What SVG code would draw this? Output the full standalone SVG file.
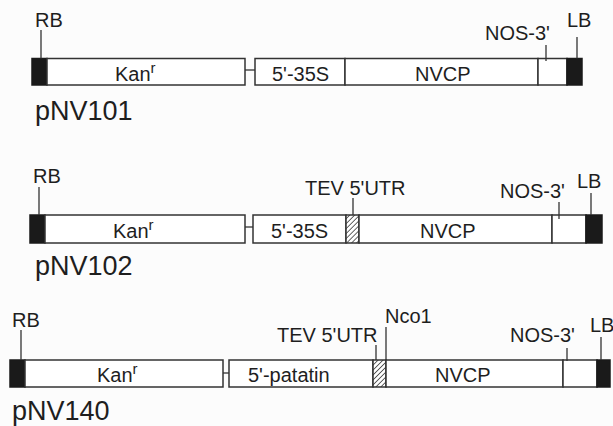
<svg xmlns="http://www.w3.org/2000/svg" width="613" height="426" viewBox="0 0 613 426">
<defs>
<pattern id="hatch" patternUnits="userSpaceOnUse" width="3.5" height="3.5" patternTransform="rotate(45)">
<rect width="3.5" height="3.5" fill="#fff"/>
<line x1="0" y1="0" x2="0" y2="3.5" stroke="#333" stroke-width="1.5"/>
</pattern>
</defs>
<style>
.box{fill:#fff;stroke:#333;stroke-width:1.5}
.blk{fill:#1a1a1a;stroke:#1a1a1a;stroke-width:1.5}
.hat{fill:url(#hatch);stroke:#333;stroke-width:1.5}
.ln{stroke:#333;stroke-width:1.3;fill:none}
text{font-family:"Liberation Sans",Arial,sans-serif;font-size:20px;fill:#1e1e1e}
.big{font-size:27px}
.sup{font-size:15px}
</style>
<rect width="613" height="426" fill="#fcfcfc"/>

<!-- Row 1: pNV101 -->
<g id="pNV101">
<rect class="blk" x="32" y="58.5" width="15" height="26.5"/>
<rect id="r1-kan" class="box" x="47" y="58.5" width="198" height="26.5"/>
<rect id="r1-35s" class="box" x="255" y="58.5" width="90" height="26.5"/>
<rect id="r1-nvcp" class="box" x="345" y="58.5" width="193" height="26.5"/>
<rect id="r1-nos" class="box" x="538" y="58.5" width="29" height="26.5"/>
<rect class="blk" x="567" y="58.5" width="15" height="26.5"/>
<text x="115" y="81">Kan<tspan class="sup" dy="-8">r</tspan></text>
<text x="272" y="81">5'-35S</text>
<text x="415" y="81">NVCP</text>
<text x="35" y="27">RB</text>
<text x="485" y="40">NOS-3'</text>
<text x="567" y="27">LB</text>
<text class="big" x="35" y="120">pNV101</text>
</g>

<!-- Row 2: pNV102 -->
<g id="pNV102">
<rect class="blk" x="30" y="215" width="15" height="28"/>
<rect id="r2-kan" class="box" x="45" y="215" width="200" height="28"/>
<rect id="r2-35s" class="box" x="253" y="215" width="93" height="28"/>
<rect id="r2-tev" class="hat" x="346" y="215" width="13" height="28"/>
<rect id="r2-nvcp" class="box" x="359" y="215" width="193" height="28"/>
<rect id="r2-nos" class="box" x="552" y="215" width="34" height="28"/>
<rect class="blk" x="586" y="215" width="16" height="28"/>
<text x="113" y="238">Kan<tspan class="sup" dy="-8">r</tspan></text>
<text x="271" y="238">5'-35S</text>
<text x="420" y="238">NVCP</text>
<text x="33" y="183">RB</text>
<text x="305" y="195">TEV 5'UTR</text>
<text x="500" y="198">NOS-3'</text>
<text x="577" y="188">LB</text>
<text class="big" x="35" y="275">pNV102</text>
</g>

<!-- Row 3: pNV140 -->
<g id="pNV140">
<rect class="blk" x="10" y="360" width="15" height="27"/>
<rect id="r3-kan" class="box" x="25" y="360" width="198" height="27"/>
<rect id="r3-pat" class="box" x="229" y="360" width="144" height="27"/>
<rect id="r3-tev" class="hat" x="373" y="360" width="13" height="27"/>
<rect id="r3-nvcp" class="box" x="386" y="360" width="177" height="27"/>
<rect id="r3-nos" class="box" x="563" y="360" width="34" height="27"/>
<rect class="blk" x="597" y="360" width="13" height="27"/>
<text x="97" y="382">Kan<tspan class="sup" dy="-8">r</tspan></text>
<text x="248" y="382">5'-patatin</text>
<text x="435" y="382">NVCP</text>
<text x="12" y="327">RB</text>
<text x="277" y="342">TEV 5'UTR</text>
<text x="385" y="323">Nco1</text>
<text x="510" y="342">NOS-3'</text>
<text x="590" y="332">LB</text>
<text class="big" x="12" y="420">pNV140</text>
</g>

<g id="connectors">
<!-- row 1 -->
<line class="ln" x1="245" y1="70" x2="255" y2="70"/>
<line class="ln" x1="41" y1="30" x2="41" y2="58.5"/>
<line class="ln" x1="546" y1="45" x2="546" y2="61"/>
<line class="ln" x1="577" y1="37" x2="577" y2="58.5"/>
<!-- row 2 -->
<line class="ln" x1="245" y1="227" x2="253" y2="227"/>
<line class="ln" x1="39" y1="187" x2="39" y2="215"/>
<line class="ln" x1="353" y1="198" x2="353" y2="215"/>
<line class="ln" x1="559" y1="202" x2="559" y2="219"/>
<line class="ln" x1="591" y1="193" x2="591" y2="215"/>
<!-- row 3 -->
<line class="ln" x1="223" y1="373" x2="229" y2="373"/>
<line class="ln" x1="21" y1="330" x2="21" y2="360"/>
<line class="ln" x1="376" y1="345" x2="376" y2="360"/>
<line class="ln" x1="386" y1="327" x2="386" y2="360"/>
<line class="ln" x1="567" y1="348" x2="567" y2="361"/>
<line class="ln" x1="601" y1="337" x2="601" y2="360"/>
</g>
</svg>
